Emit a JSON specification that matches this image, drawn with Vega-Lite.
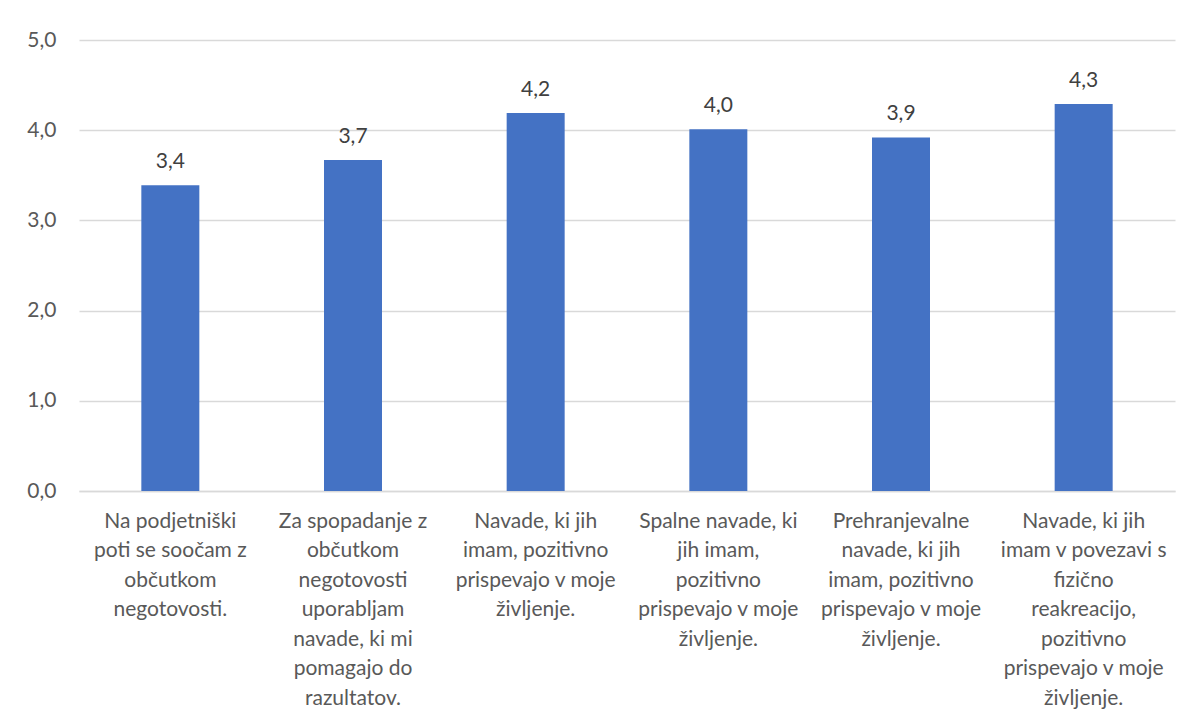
{
  "$schema": "https://vega.github.io/schema/vega-lite/v6.json",
  "width": 1096,
  "height": 451,
  "autosize": {"type": "none"},
  "padding": {"left": 79, "top": 40, "right": 12, "bottom": 231},
  "background": "#ffffff",
  "config": {
    "locale": {"number": {"decimal": ",", "thousands": ".", "grouping": [3], "currency": ["", " €"]}},
    "view": {"stroke": null},
    "font": "Lato"
  },
  "data": {
    "values": [
      {"trditev": "Na podjetniški|poti se soočam z|občutkom|negotovosti.", "povprecje": 3.39},
      {"trditev": "Za spopadanje z|občutkom|negotovosti|uporabljam|navade, ki mi|pomagajo do|razultatov.", "povprecje": 3.67},
      {"trditev": "Navade, ki jih|imam, pozitivno|prispevajo v moje|življenje.", "povprecje": 4.19},
      {"trditev": "Spalne navade, ki|jih imam,|pozitivno|prispevajo v moje|življenje.", "povprecje": 4.01},
      {"trditev": "Prehranjevalne|navade, ki jih|imam, pozitivno|prispevajo v moje|življenje.", "povprecje": 3.92},
      {"trditev": "Navade, ki jih|imam v povezavi s|fizično|reakreacijo,|pozitivno|prispevajo v moje|življenje.", "povprecje": 4.29}
    ]
  },
  "encoding": {
    "x": {
      "field": "trditev",
      "type": "nominal",
      "sort": null,
      "title": null,
      "scale": {"paddingInner": 0, "paddingOuter": 0},
      "axis": {
        "labelExpr": "split(datum.label, '|')",
        "labelAngle": 0,
        "labelFontSize": 21,
        "labelLineHeight": 29.5,
        "labelColor": "#595959",
        "labelPadding": 19,
        "labelLimit": 400,
        "labelBaseline": "top",
        "ticks": false,
        "domainColor": "#d9d9d9",
        "domainWidth": 1.3,
        "grid": false
      }
    },
    "y": {
      "field": "povprecje",
      "type": "quantitative",
      "title": null,
      "scale": {"domain": [0, 5]},
      "axis": {
        "values": [0, 1, 2, 3, 4, 5],
        "format": ".1f",
        "labelFontSize": 21,
        "labelColor": "#595959",
        "labelPadding": 23,
        "ticks": false,
        "domain": false,
        "gridColor": "#d9d9d9",
        "gridWidth": 1.3
      }
    }
  },
  "layer": [
    {"mark": {"type": "bar", "size": 58, "color": "#4472C4"}},
    {
      "mark": {"type": "text", "baseline": "alphabetic", "dy": -17, "fontSize": 21, "color": "#404040"},
      "encoding": {"text": {"field": "povprecje", "type": "quantitative", "format": ".1f"}}
    }
  ]
}
